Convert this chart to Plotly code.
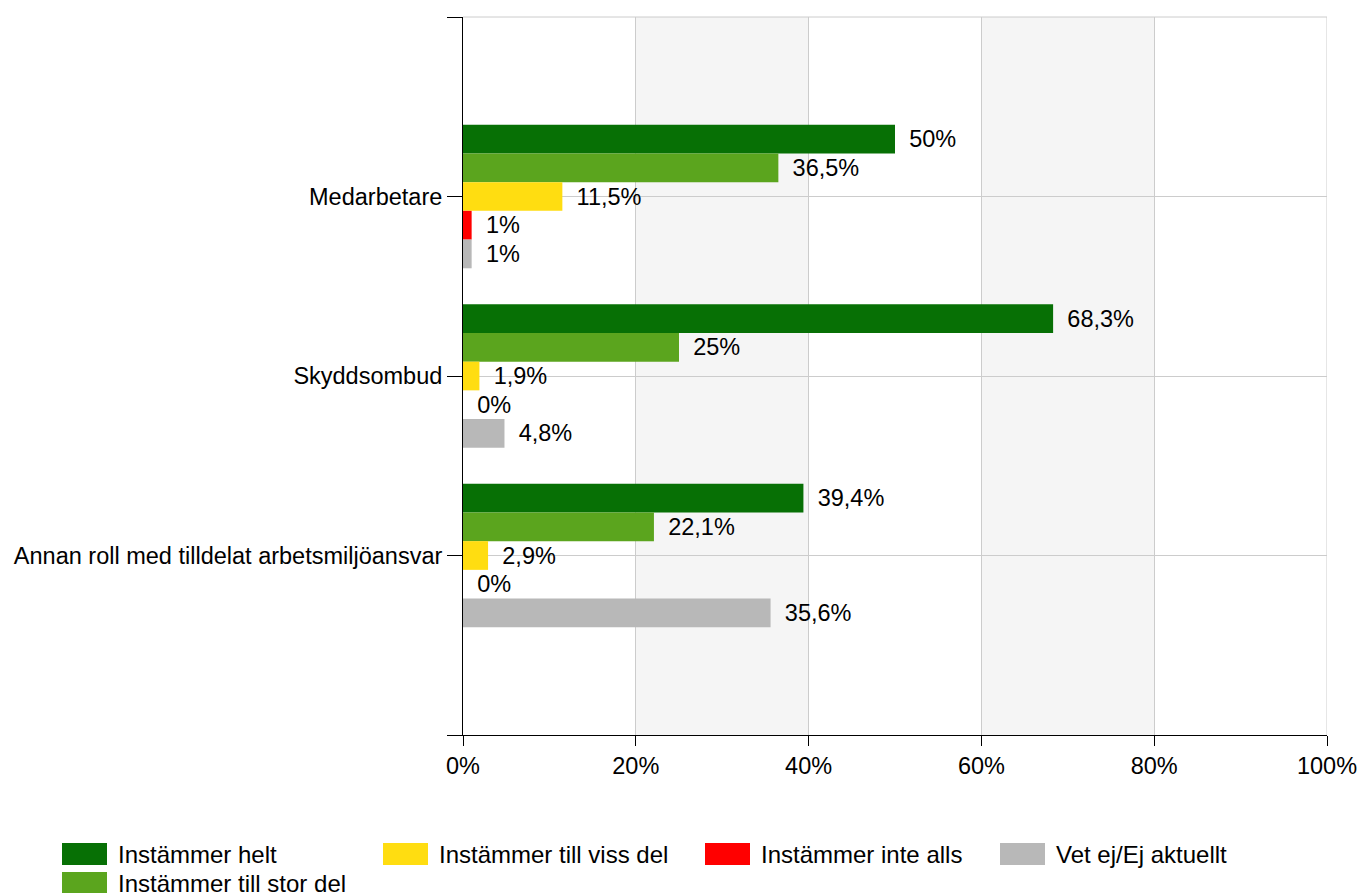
import plotly.graph_objects as go

categories = ["Medarbetare", "Skyddsombud", "Annan roll med tilldelat arbetsmiljöansvar"]
series_names = ["Instämmer helt", "Instämmer till stor del", "Instämmer till viss del",
                "Instämmer inte alls", "Vet ej/Ej aktuellt"]
helt = [50, 68.3, 39.4]
stor_del = [36.5, 25, 22.1]
viss_del = [11.5, 1.9, 2.9]
inte_alls = [1, 0, 0]
vet_ej = [1, 4.8, 35.6]
series_values = [helt, stor_del, viss_del, inte_alls, vet_ej]
colors = ["#077005", "#5ba51e", "#ffdd11", "#ff0000", "#b8b8b8"]
x_ticks = [0, 20, 40, 60, 80, 100]

FONT = "Arial, Liberation Sans, sans-serif"
FS = 23.5
W, H = 1358, 893
L, R, T, B = 463, 31, 17, 158

cat_pos = list(range(1, len(categories) + 1))


def fmt(v):
    return ("%g" % v).replace(".", ",") + "%"


fig = go.Figure()
for name, vals, col in zip(series_names, series_values, colors):
    fig.add_trace(go.Bar(
        y=cat_pos, x=vals, orientation="h", name=name,
        marker=dict(color=col, line=dict(width=0)),
        text=["\u00a0\u2009" + fmt(v) for v in vals],
        textposition="outside", textfont=dict(family=FONT, size=FS, color="#000"),
        constraintext="none", cliponaxis=False, showlegend=False,
    ))

# alternating background stripes
shapes = []
for i in range(len(x_ticks) - 1):
    if i % 2 == 1:
        shapes.append(dict(type="rect", xref="x", yref="paper", x0=x_ticks[i], x1=x_ticks[i + 1],
                           y0=0, y1=1, fillcolor="#f5f5f5", line=dict(width=0), layer="below"))
# top and right frame lines (grey)
shapes.append(dict(type="line", xref="paper", yref="paper", x0=0, x1=1, y0=1, y1=1,
                   line=dict(color="#cccccc", width=1), layer="below"))
shapes.append(dict(type="line", xref="x", yref="paper", x0=x_ticks[-1], x1=x_ticks[-1], y0=0, y1=1,
                   line=dict(color="#cccccc", width=1), layer="below"))

# manual legend (wide swatches like the reference)
pw, ph = W - L - R, H - T - B
def px_x(p):
    return (p - L) / pw
def px_y(p):
    return (H - B - p) / ph

legend_pos = [(62, 854), (62, 883), (383, 854), (705, 854), (1000, 854)]
annotations = []
for name, col, (lx, ly) in zip(series_names, colors, legend_pos):
    shapes.append(dict(type="rect", xref="paper", yref="paper",
                       x0=px_x(lx), x1=px_x(lx + 45), y0=px_y(ly + 11), y1=px_y(ly - 11),
                       fillcolor=col, line=dict(width=0), layer="above"))
    annotations.append(dict(xref="paper", yref="paper", x=px_x(lx + 54), y=px_y(ly),
                            text=name, showarrow=False, xanchor="left", yanchor="middle",
                            font=dict(family=FONT, size=24, color="#000")))

fig.update_layout(
    width=W, height=H, margin=dict(l=L, r=R, t=T, b=B, autoexpand=False),
    paper_bgcolor="white", plot_bgcolor="white",
    barmode="group", bargap=0.2, bargroupgap=0,
    font=dict(family=FONT, size=FS, color="#000"),
    shapes=shapes, annotations=annotations, showlegend=False,
    xaxis=dict(range=[0, 100], tickvals=x_ticks, ticktext=[f"{t}%" for t in x_ticks],
               showgrid=True, gridcolor="#cccccc", gridwidth=1, zeroline=False,
               showline=True, linecolor="#000", linewidth=1,
               ticks="outside", ticklen=10, tickcolor="#000", tickfont=dict(size=FS)),
    yaxis=dict(range=[len(categories) + 1, 0], tickvals=[0] + cat_pos + [len(categories) + 1],
               ticktext=[""] + categories + [""],
               showgrid=True, gridcolor="#cccccc", gridwidth=1, zeroline=False,
               showline=True, linecolor="#000", linewidth=1,
               ticks="outside", ticklen=15, tickcolor="#000", tickfont=dict(size=FS)),
)

fig.write_html("out.html", config={"displayModeBar": False},
               post_script="document.body.style.margin='0';document.body.style.overflow='hidden';")
